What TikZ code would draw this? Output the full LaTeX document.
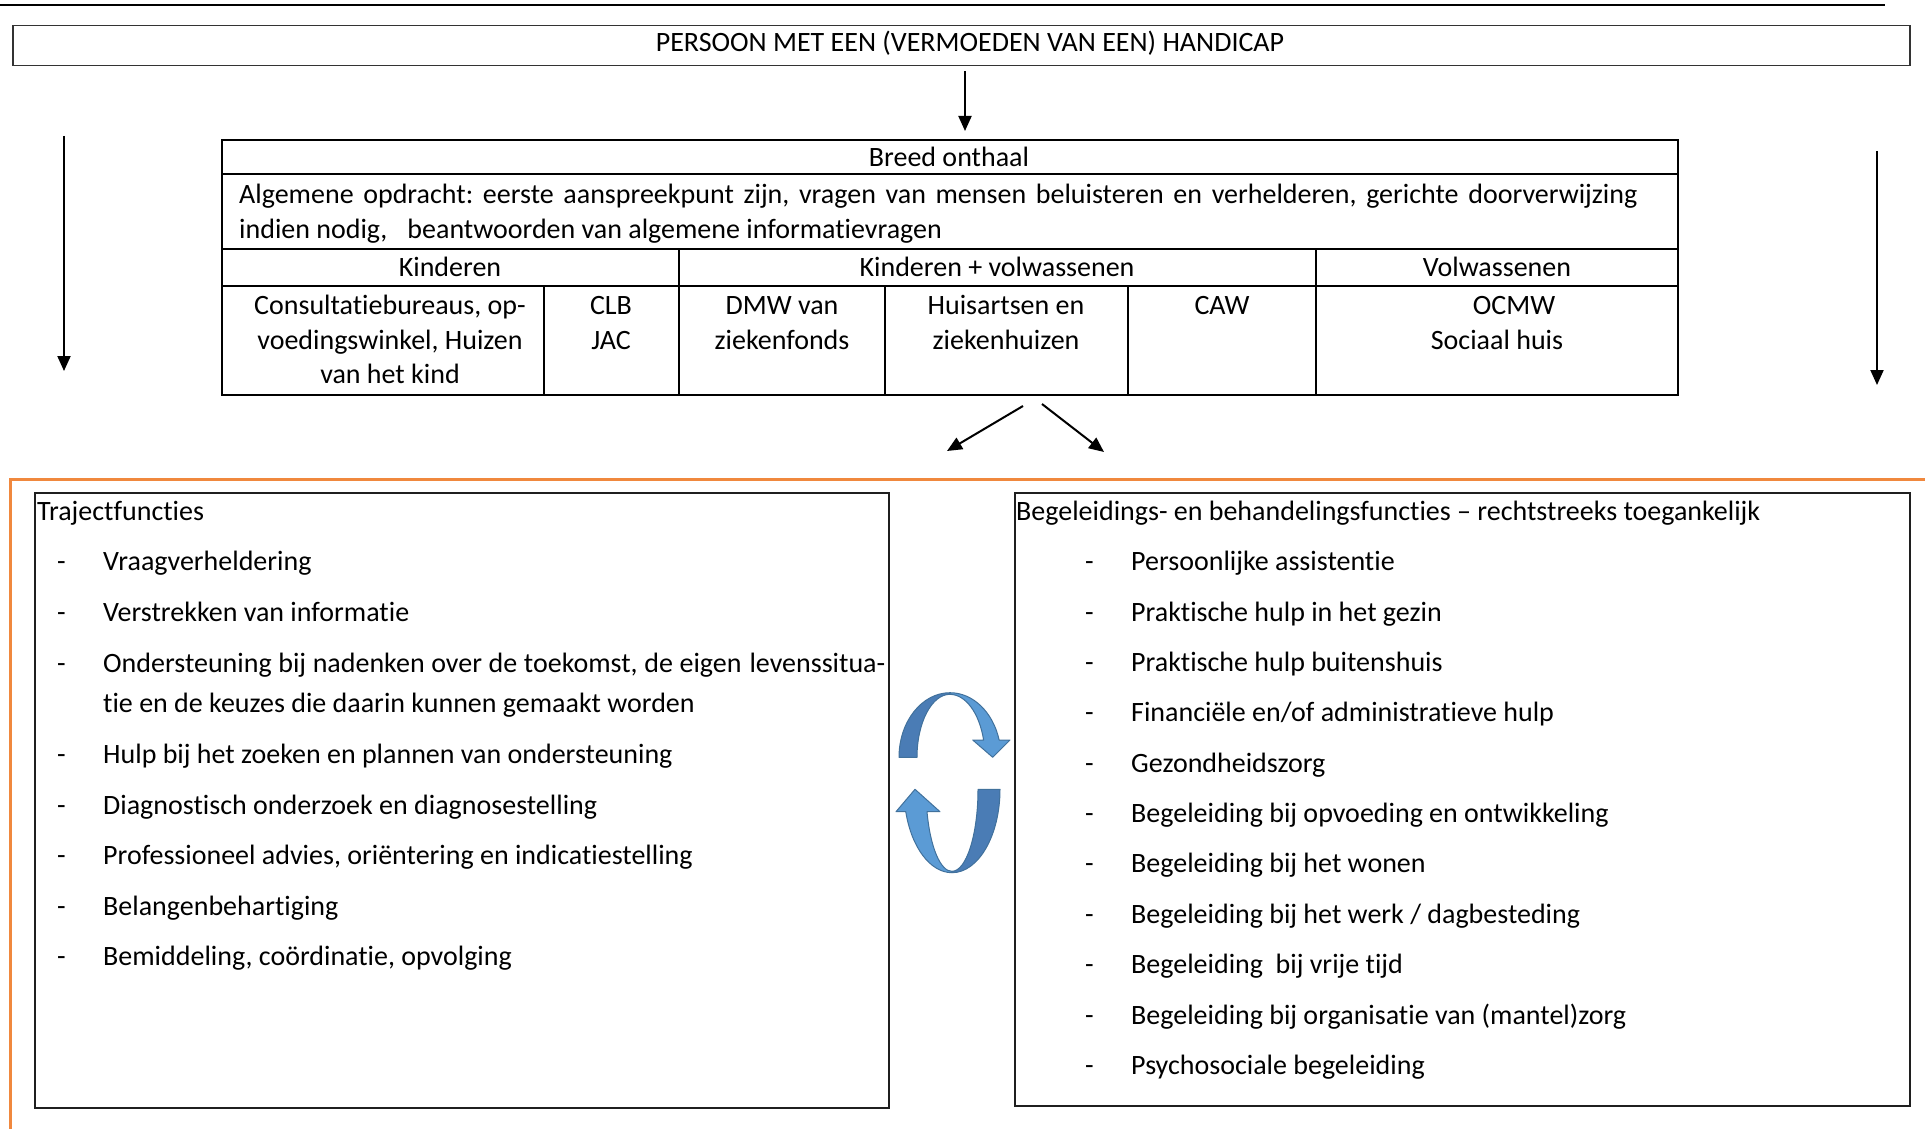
\documentclass[tikz,border=0pt]{standalone}
\usepackage{fontspec}
\setmainfont{Carlito}[RawFeature={-liga;-clig;-calt;-dlig}]
\usetikzlibrary{arrows.meta}
\definecolor{orng}{HTML}{F0883E}
\definecolor{blueD}{HTML}{4A7CB5}
\definecolor{blueL}{HTML}{5B9BD5}
\definecolor{blueE}{HTML}{41719C}
\frenchspacing
\begin{document}
\begin{tikzpicture}[x=1pt,y=-1pt,
  txt/.style={font=\fontsize{28}{34}\selectfont, inner sep=0pt, yshift=-2pt},
  arr/.style={line width=2pt, -{Triangle[length=15pt,width=13pt]}},
  tline/.style={line width=2pt},
  frame/.style={draw=black!88, line width=2pt, anchor=north west, inner sep=0pt},
  ribbonD/.style={fill=blueD, draw=blueE, line width=1pt, line join=round},
  ribbonL/.style={fill=blueL, draw=blueE, line width=1pt, line join=round}]
\useasboundingbox (0,0) rectangle (1925,1129);
\fill[white] (0,0) rectangle (1925,1129);

% top rule and top box
\draw[line width=2.5pt] (0,5) -- (1885,5);
\node[draw=black!80, line width=1.5pt, anchor=north west, inner sep=0pt,
      minimum width=1897pt, minimum height=40pt] (top) at (12,25) {};
\node[txt, anchor=base] (toptxt) at (970,50) {PERSOON MET EEN (VERMOEDEN VAN EEN) HANDICAP};

% table
\node[frame, draw=black, minimum width=1456pt, minimum height=255pt] (tbl) at (221,139) {};
\draw[tline] (221,174) -- (1677,174);
\draw[tline] (221,249) -- (1677,249);
\draw[tline] (221,286) -- (1677,286);
\draw[tline] (679,249) -- (679,394);
\draw[tline] (1316,249) -- (1316,394);
\draw[tline] (544,286) -- (544,394);
\draw[tline] (885,286) -- (885,394);
\draw[tline] (1128,286) -- (1128,394);

\node[txt, anchor=base] (breed) at (949,165) {Breed onthaal};
\node[txt, anchor=base west] (alg1) at (239,202) {\makebox[1398pt][s]{Algemene opdracht: eerste aanspreekpunt zijn, vragen van mensen beluisteren en verhelderen, gerichte doorverwijzing}};
\node[txt, anchor=base west] (alg2) at (239,236) {indien nodig,\hspace{20pt}beantwoorden van algemene informatievragen};
\node[txt, anchor=base] (kin) at (450,274) {Kinderen};
\node[txt, anchor=base] (kinvol) at (997,274) {Kinderen + volwassenen};
\node[txt, anchor=base] (vol) at (1497,274) {Volwassenen};
\node[txt, anchor=base] (c1a) at (390,312) {Consultatiebureaus, op-};
\node[txt, anchor=base] (c1b) at (390,347) {voedingswinkel, Huizen};
\node[txt, anchor=base] (c1c) at (390,381) {van het kind};
\node[txt, anchor=base] (c2a) at (611,312) {CLB};
\node[txt, anchor=base] (c2b) at (611,347) {JAC};
\node[txt, anchor=base] (c3a) at (782,312) {DMW van};
\node[txt, anchor=base] (c3b) at (782,347) {ziekenfonds};
\node[txt, anchor=base] (c4a) at (1006,312) {Huisartsen en};
\node[txt, anchor=base] (c4b) at (1006,347) {ziekenhuizen};
\node[txt, anchor=base] (c5a) at (1222,312) {CAW};
\node[txt, anchor=base] (c6a) at (1514,312) {OCMW};
\node[txt, anchor=base] (c6b) at (1497,347) {Sociaal huis};

% arrows
\coordinate (a0) at (965,131);
\draw[arr, shorten <=5pt] (top.south -| a0) -- (a0);
\coordinate (l1) at (64,136);
\coordinate (l2) at (64,371);
\draw[arr] (l1) -- (l2);
\coordinate (r1) at (1877,151);
\coordinate (r2) at (1877,385);
\draw[arr] (r1) -- (r2);
\coordinate (b1s) at (1023,406);
\coordinate (b1e) at (947,451);
\coordinate (b2s) at (1042,404);
\coordinate (b2e) at (1104,452);
\draw[arr] (b1s) -- (b1e);
\draw[arr] (b2s) -- (b2e);

% orange frame
\draw[orng, line width=3pt] (10,1129) -- (10,479) -- (1925,479);

% boxes
\node[frame, minimum width=854pt, minimum height=615pt] (lbox) at (34,492) {};
\node[frame, minimum width=895pt, minimum height=613pt] (rbox) at (1014,492) {};

% left list
\node[txt, anchor=base west] (lt) at (37,518) {Trajectfuncties};
\node[txt, anchor=base west] (ld1) at (57,568) {-};
\node[txt, anchor=base west] (li1) at (103,568) {Vraagverheldering};
\node[txt, anchor=base west] (ld2) at (57,619) {-};
\node[txt, anchor=base west] (li2) at (103,619) {Verstrekken van informatie};
\node[txt, anchor=base west] (ld3) at (57,670) {-};
\node[txt, anchor=base west] (li3) at (103,670) {\makebox[782pt][s]{Ondersteuning bij nadenken over de toekomst, de eigen\hspace{8pt}levenssitua-}};
\node[txt, anchor=base west] (li3b) at (103,710) {tie en de keuzes die daarin kunnen gemaakt worden};
\node[txt, anchor=base west] (ld4) at (57,761) {-};
\node[txt, anchor=base west] (li4) at (103,761) {Hulp bij het zoeken en plannen van ondersteuning};
\node[txt, anchor=base west] (ld5) at (57,812) {-};
\node[txt, anchor=base west] (li5) at (103,812) {Diagnostisch onderzoek en diagnosestelling};
\node[txt, anchor=base west] (ld6) at (57,862) {-};
\node[txt, anchor=base west] (li6) at (103,862) {Professioneel advies, oriëntering en indicatiestelling};
\node[txt, anchor=base west] (ld7) at (57,913) {-};
\node[txt, anchor=base west] (li7) at (103,913) {Belangenbehartiging};
\node[txt, anchor=base west] (ld8) at (57,963) {-};
\node[txt, anchor=base west] (li8) at (103,963) {Bemiddeling, coördinatie, opvolging};

% right list
\node[txt, anchor=base west] (rt) at (1016,518) {Begeleidings- en behandelingsfuncties – rechtstreeks toegankelijk};
\node[txt, anchor=base west] (rd1) at (1085,568) {-};
\node[txt, anchor=base west] (ri1) at (1131,568) {Persoonlijke assistentie};
\node[txt, anchor=base west] (rd2) at (1085,619) {-};
\node[txt, anchor=base west] (ri2) at (1131,619) {Praktische hulp in het gezin};
\node[txt, anchor=base west] (rd3) at (1085,669) {-};
\node[txt, anchor=base west] (ri3) at (1131,669) {Praktische hulp buitenshuis};
\node[txt, anchor=base west] (rd4) at (1085,719) {-};
\node[txt, anchor=base west] (ri4) at (1131,719) {Financiële en/of administratieve hulp};
\node[txt, anchor=base west] (rd5) at (1085,770) {-};
\node[txt, anchor=base west] (ri5) at (1131,770) {Gezondheidszorg};
\node[txt, anchor=base west] (rd6) at (1085,820) {-};
\node[txt, anchor=base west] (ri6) at (1131,820) {Begeleiding bij opvoeding en ontwikkeling};
\node[txt, anchor=base west] (rd7) at (1085,870) {-};
\node[txt, anchor=base west] (ri7) at (1131,870) {Begeleiding bij het wonen};
\node[txt, anchor=base west] (rd8) at (1085,921) {-};
\node[txt, anchor=base west] (ri8) at (1131,921) {Begeleiding bij het werk / dagbesteding};
\node[txt, anchor=base west] (rd9) at (1085,971) {-};
\node[txt, anchor=base west] (ri9) at (1131,971) {Begeleiding\ \ bij vrije tijd};
\node[txt, anchor=base west] (rd10) at (1085,1022) {-};
\node[txt, anchor=base west] (ri10) at (1131,1022) {Begeleiding bij organisatie van (mantel)zorg};
\node[txt, anchor=base west] (rd11) at (1085,1072) {-};
\node[txt, anchor=base west] (ri11) at (1131,1072) {Psychosociale begeleiding};

% circular arrows (upper)
\draw[ribbonD] (899,757.3) arc[start angle=180, end angle=270, x radius=51, y radius=64.6]
   -- (950,694.3) arc[start angle=270, end angle=180, x radius=33, y radius=63] -- cycle;
\draw[ribbonL] (950,692.7) arc[start angle=270, end angle=344.5, x radius=51, y radius=64.6]
   -- (1010,740) -- (992.7,757.3) -- (972.7,740) -- (983.6,740)
   arc[start angle=344, end angle=270, x radius=35, y radius=63] -- cycle;
% circular arrows (lower)
\draw[ribbonD] (1000,789.3) arc[start angle=0, end angle=90, x radius=48, y radius=83.4]
   -- (952,871.3) arc[start angle=90, end angle=0, x radius=26, y radius=82] -- cycle;
\draw[ribbonL] (952,872.7) arc[start angle=90, end angle=164.4, x radius=48, y radius=83.4]
   -- (896,811.7) -- (915,789.3) -- (940,811.7) -- (927,811.7)
   arc[start angle=164.2, end angle=90, x radius=26, y radius=82] -- cycle;
\end{tikzpicture}
\end{document}
